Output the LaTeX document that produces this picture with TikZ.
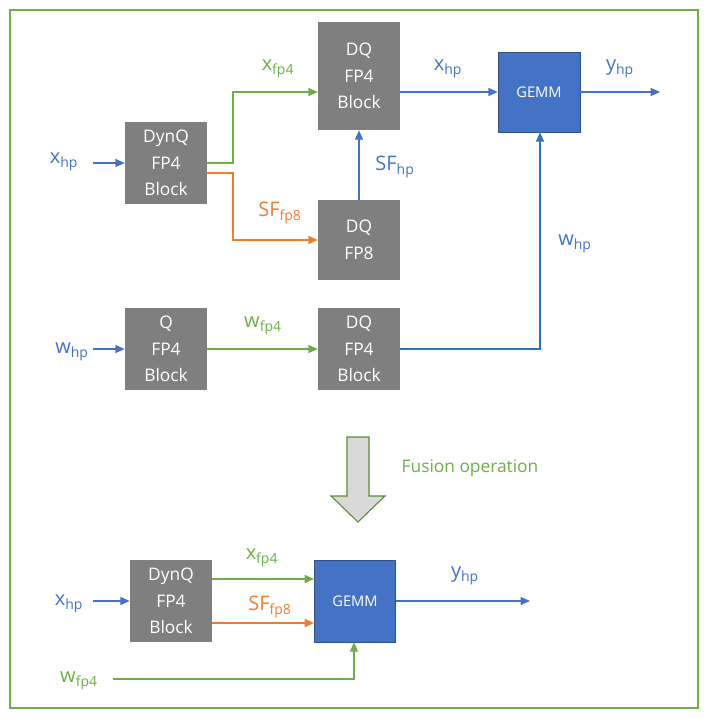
\documentclass[tikz,border=0pt]{standalone}
\usepackage{fontspec}
\setmainfont{Open Sans}
\usetikzlibrary{arrows.meta,calc}
\definecolor{cg}{HTML}{70AD47}
\definecolor{cb}{HTML}{4472C4}
\definecolor{cb2}{HTML}{2E75B6}
\definecolor{co}{HTML}{ED7D31}
\definecolor{cgr}{HTML}{7F7F7F}
\begin{document}
\begin{tikzpicture}[x=0.75pt,y=-0.75pt,
  box/.style={fill=cgr,draw=none,text=white,align=center,inner sep=0pt,font=\fontsize{13}{20}\selectfont},
  gemm/.style={fill=cb,draw=cb!70!black,text=white,inner sep=0pt,font=\fontsize{11}{13}\selectfont},
  lab/.style={font=\fontsize{15}{18}\selectfont,inner sep=1pt},
  ar/.style={-{Triangle[length=7pt,width=6pt]},line width=1pt}]
\useasboundingbox (0,0) rectangle (709,719);
\draw[cg,line width=1pt] (10,10) rectangle (698,708);
% boxes
\node[box,minimum width=61.5pt,minimum height=62pt] (dynq) at (166,163) {DynQ\\FP4\\Block};
\node[box,minimum width=61.5pt,minimum height=81pt] (dqa) at (359,76) {DQ\\FP4\\Block};
\node[gemm,minimum width=61.5pt,minimum height=60pt] (g1) at (539,92) {GEMM};
\node[box,minimum width=61.5pt,minimum height=60pt] (dq8) at (359,240) {DQ\\FP8};
\node[box,minimum width=61.5pt,minimum height=61.5pt] (q) at (166,349) {Q\\FP4\\Block};
\node[box,minimum width=61.5pt,minimum height=61.5pt] (dqb) at (359,349) {DQ\\FP4\\Block};
\node[box,minimum width=61.5pt,minimum height=61.5pt] (dyn2) at (171,601) {DynQ\\FP4\\Block};
\node[gemm,minimum width=61pt,minimum height=61.5pt] (g2) at (355,601) {GEMM};
% labels
\node[lab,text=cb] (xa) at (64,162) {x\textsubscript{hp}};
\node[lab,text=cb] (wa) at (72,352) {w\textsubscript{hp}};
\node[lab,text=cg] (l1) at (278,69) {x\textsubscript{fp4}};
\node[lab,text=co] (l2) at (280,213) {SF\textsubscript{fp8}};
\node[lab,text=cb] (l3) at (395,167) {SF\textsubscript{hp}};
\node[lab,text=cb] (l4) at (448,69) {x\textsubscript{hp}};
\node[lab,text=cb] (l5) at (620,69) {y\textsubscript{hp}};
\node[lab,text=cg] (l6) at (263,326) {w\textsubscript{fp4}};
\node[lab,text=cb] (l7) at (575,244) {w\textsubscript{hp}};
\node[lab,text=cg,font=\fontsize{13}{16}\selectfont] (fus) at (470,468) {Fusion operation};
\node[lab,text=cb] (xb) at (69,604) {x\textsubscript{hp}};
\node[lab,text=cg] (wb) at (79,681) {w\textsubscript{fp4}};
\node[lab,text=cg] (l8) at (262,558) {x\textsubscript{fp4}};
\node[lab,text=co] (l9) at (270,607) {SF\textsubscript{fp8}};
\node[lab,text=cb] (l10) at (465,576) {y\textsubscript{hp}};
% top connectors
\draw[ar,cb] (93,163) -- (dynq.west);
\draw[ar,cb] (93,349) -- (q.west);
\draw[ar,cg] ($(dynq.east)+(0,0)$) -- (233,163) -- (233,92) -- (dqa.west |- 0,92);
\draw[ar,co] (207,173) -- (233,173) -- (233,240) -- (dq8.west);
\draw[ar,cb] (dq8.north) -- (dqa.south);
\draw[ar,cb] (dqa.east |- 0,92) -- (g1.west);
\coordinate (o1) at (660,92);
\draw[ar,cb] (g1.east) -- (o1);
\draw[ar,cg] (q.east) -- (dqb.west);
\draw[ar,cb2] (dqb.east) -- (540,349) -- (g1.south -| 540,0);
% fusion arrow
\node[fill=black!15,draw=cg!80!black,line width=0.8pt,minimum size=0pt,inner sep=0pt] (fa) at (358,470) {};
\draw[fill=black!15,draw=cg!80!black,line width=0.8pt] (347,437) -- (369,437) -- (369,496) -- (385,496) -- (358,522) -- (331,496) -- (347,496) -- cycle;
% bottom
\draw[ar,cb] (93,601) -- (dyn2.west);
\draw[ar,cg] (212,579) -- (g2.west |- 0,579);
\draw[ar,co] (212,623) -- (g2.west |- 0,623);
\coordinate (o2) at (530,601);
\draw[ar,cb] (g2.east) -- (o2);
\draw[ar,cg] (113,679) -- (354,679) -- (g2.south -| 354,0);
\end{tikzpicture}
\end{document}
